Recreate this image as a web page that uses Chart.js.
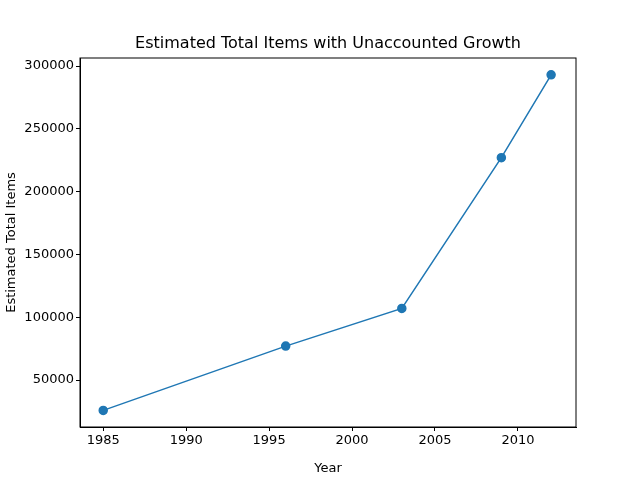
<!DOCTYPE html>
<html><head><script src="https://cdn.jsdelivr.net/npm/chart.js"></script>
<style>body{margin:0}</style></head>
<body><canvas id="c" width="640" height="480" style="width:640px;height:480px"></canvas>
<script>
const years=[1985,1996,2003,2009,2012];
const items=[25800,77000,107000,227000,293000];
const xTicks=[1985,1990,1995,2000,2005,2010];
const yTicks=[50000,100000,150000,200000,250000,300000];
const F='DejaVu Sans';
const frame={id:'frame',afterDraw(ch){const a=ch.chartArea,c=ch.ctx;c.save();c.strokeStyle='#000';c.lineWidth=1;c.strokeRect(a.left,a.top,a.right-a.left,a.bottom-a.top);
c.fillStyle='#000';c.font='16px '+F;c.textAlign='center';c.textBaseline='bottom';c.fillText('Estimated Total Items with Unaccounted Growth',(a.left+a.right)/2,a.top-6);c.restore();}};
new Chart(document.getElementById('c'),{type:'scatter',
data:{datasets:[{data:years.map((y,i)=>({x:y,y:items[i]})),showLine:true,borderColor:'#1f77b4',backgroundColor:'#1f77b4',pointRadius:4,borderWidth:1.5}]},
options:{responsive:false,animation:false,devicePixelRatio:1,layout:{padding:{top:58,right:64,left:0,bottom:0}},
plugins:{legend:{display:false},tooltip:{enabled:false}},
scales:{
x:{type:'linear',min:1983.6,max:2013.5,afterBuildTicks:s=>{s.ticks=xTicks.map(v=>({value:v}))},afterFit:s=>{s.height=53},
 grid:{drawOnChartArea:false,tickLength:4,color:'#000'},border:{color:'#000'},
 ticks:{color:'#000',font:{family:F,size:13},padding:2,maxRotation:0,autoSkip:false,callback:v=>String(v)},
 title:{display:true,text:'Year',color:'#000',font:{family:F,size:13},padding:{top:0}}},
y:{min:12580,max:306400,afterBuildTicks:s=>{s.ticks=yTicks.map(v=>({value:v}))},afterFit:s=>{s.width=80},
 grid:{drawOnChartArea:false,tickLength:4,color:'#000'},border:{color:'#000'},
 ticks:{color:'#000',font:{family:F,size:13},padding:2,autoSkip:false,callback:v=>String(v)},
 title:{display:true,text:'Estimated Total Items',color:'#000',font:{family:F,size:13},padding:{bottom:2}}}}},
plugins:[frame]});
</script></body></html>
